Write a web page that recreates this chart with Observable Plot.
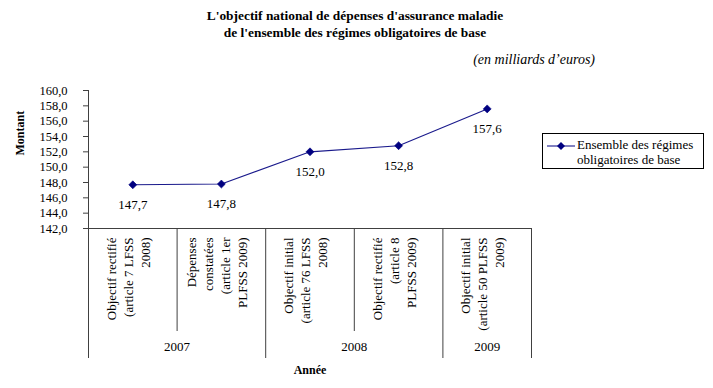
<!DOCTYPE html>
<html>
<head>
<meta charset="utf-8">
<script src="https://cdn.jsdelivr.net/npm/d3@7"></script>
<script src="https://cdn.jsdelivr.net/npm/@observablehq/plot@0.6"></script>
<style>
  html, body { margin: 0; padding: 0; background: #fff; }
  #wrap { position: relative; width: 713px; height: 388px; font-family: "Liberation Serif", "Times New Roman", serif; color: #000; overflow: hidden; }
  #title { position: absolute; left: 0; top: 7px; width: 710px; text-align: center; font-weight: bold; font-size: 13.4px; line-height: 17px; }
  #unit { position: absolute; right: 118px; top: 51px; font-style: italic; font-size: 14px; line-height: 18px; }
  #chart { position: absolute; left: 0; top: 0; }
  #legend { position: absolute; left: 542px; top: 133px; width: 160px; height: 34px; border: 1px solid #000; background: #fff; font-size: 13px; line-height: 15px; }
  #legend svg { position: absolute; left: 4px; top: 6px; }
  #legend .txt { position: absolute; left: 34px; top: 3px; white-space: nowrap; }
</style>
</head>
<body>
<div id="wrap">
  <div id="chart"></div>
  <div id="title">L'objectif national de dépenses d'assurance maladie<br>de l'ensemble des régimes obligatoires de base</div>
  <div id="unit">(en milliards d’euros)</div>
  <div id="legend"></div>
</div>
<script>
// ---- data ----
const categories = [
  "Objectif rectifié\n(article 7 LFSS\n2008)",
  "Dépenses\nconstatées\n(article 1er\nPLFSS 2009)",
  "Objectif initial\n(article 76 LFSS\n2008)",
  "Objectif rectifié\n(article 8\nPLFSS 2009)",
  "Objectif initial\n(article 50 PLFSS\n2009)"
];
const categoryYears = ["2007", "2007", "2008", "2008", "2009"];
const values = [147.7, 147.8, 152.0, 152.8, 157.6];
const seriesName = "Ensemble des régimes obligatoires de base";
const yTicks = [142, 144, 146, 148, 150, 152, 154, 156, 158, 160];
const yDomain = [142, 160];
const yTitle = "Montant";
const xTitle = "Année";

// ---- derived ----
const navy = "#000080";
const fmt = d => d.toFixed(1).replace(".", ",");
const data = values.map((v, i) => ({i, cat: categories[i], year: categoryYears[i], v}));
const years = Array.from(new Set(categoryYears));
const yearSpans = years.map(y => {
  const idx = categoryYears.map((c, i) => c === y ? i : -1).filter(i => i >= 0);
  return {year: y, start: d3.min(idx), end: d3.max(idx) + 1};
});
const yearBounds = Array.from(new Set(yearSpans.flatMap(s => [s.start, s.end])));
const catBounds = d3.range(1, categories.length).filter(b => !yearBounds.includes(b));

// one datum per label line, grouped by its offset from the band centre
const LINE_STEP = 17;
const labelLines = data.flatMap(d => {
  const parts = d.cat.split("\n");
  return parts.map((t, k) => ({i: d.i, text: t, off: (k - (parts.length - 1) / 2) * LINE_STEP}));
});
const offsets = Array.from(new Set(labelLines.map(l => l.off)));

const W = 713, H = 388, mT = 90, mB = 160, mL = 88, mR = 182;
const frameH = H - mT - mB;
const lineCol = "#404040";

const chart = Plot.plot({
  width: W, height: H,
  marginTop: mT, marginBottom: mB, marginLeft: mL, marginRight: mR,
  style: {fontFamily: "'Liberation Serif', 'Times New Roman', serif", fontSize: "12.5px", color: "#000", background: "transparent"},
  x: {type: "linear", domain: [0, categories.length], axis: null},
  y: {domain: yDomain, axis: null},
  marks: [
    Plot.axisY({ticks: yTicks, tickFormat: fmt, tickSize: 5, tickPadding: 16, label: null, stroke: lineCol}),
    // x axis line / table top
    Plot.ruleY([yDomain[0]], {stroke: lineCol}),
    // y axis line continuing as table left border
    Plot.ruleX([0], {stroke: lineCol, insetBottom: -130}),
    // year boundaries (long)
    Plot.ruleX(yearBounds.filter(b => b !== 0), {stroke: lineCol, insetTop: frameH, insetBottom: -130}),
    // category separators within a year (short)
    Plot.ruleX(catBounds, {stroke: lineCol, insetTop: frameH, insetBottom: -103}),
    // category labels, one mark per line offset
    ...offsets.map(off => Plot.text(labelLines.filter(l => l.off === off), {
      x: d => d.i + 0.5, text: "text", frameAnchor: "bottom", dy: 9, dx: off,
      rotate: -90, textAnchor: "end", fontSize: 13
    })),
    // year labels
    Plot.text(yearSpans, {x: d => (d.start + d.end) / 2, text: d => d.year, frameAnchor: "bottom", dy: 122, fontSize: 13}),
    // axis titles
    Plot.text([yTitle], {frameAnchor: "left", rotate: -90, dx: -68, dy: -4, fontWeight: "bold", fontSize: 12}),
    Plot.text([xTitle], {frameAnchor: "bottom", dy: 145, fontWeight: "bold", fontSize: 12}),
    // series
    Plot.line(data, {x: d => d.i + 0.5, y: "v", stroke: "#1a1a8c", strokeWidth: 1.1}),
    Plot.dot(data, {x: d => d.i + 0.5, y: "v", symbol: "diamond2", r: 3.6, fill: navy, stroke: navy, strokeWidth: 0.6}),
    Plot.text(data, {x: d => d.i + 0.5, y: "v", text: d => fmt(d.v), dy: 20, fontSize: 13})
  ]
});
document.getElementById("chart").appendChild(chart);

// legend
const words = seriesName.split(" ");
const line1 = words.slice(0, 3).join(" ");
const line2 = words.slice(3).join(" ");
const leg = document.getElementById("legend");
leg.innerHTML = `<svg width="30" height="12" viewBox="0 0 30 12">
  <line x1="0" y1="6" x2="28" y2="6" stroke="#1a1a8c" stroke-width="1.1"/>
  <path d="M14,2 L18,6 L14,10 L10,6 Z" fill="${navy}"/>
</svg><div class="txt"></div>`;
leg.querySelector(".txt").innerHTML = line1 + "<br>" + line2;
</script>
</body>
</html>
